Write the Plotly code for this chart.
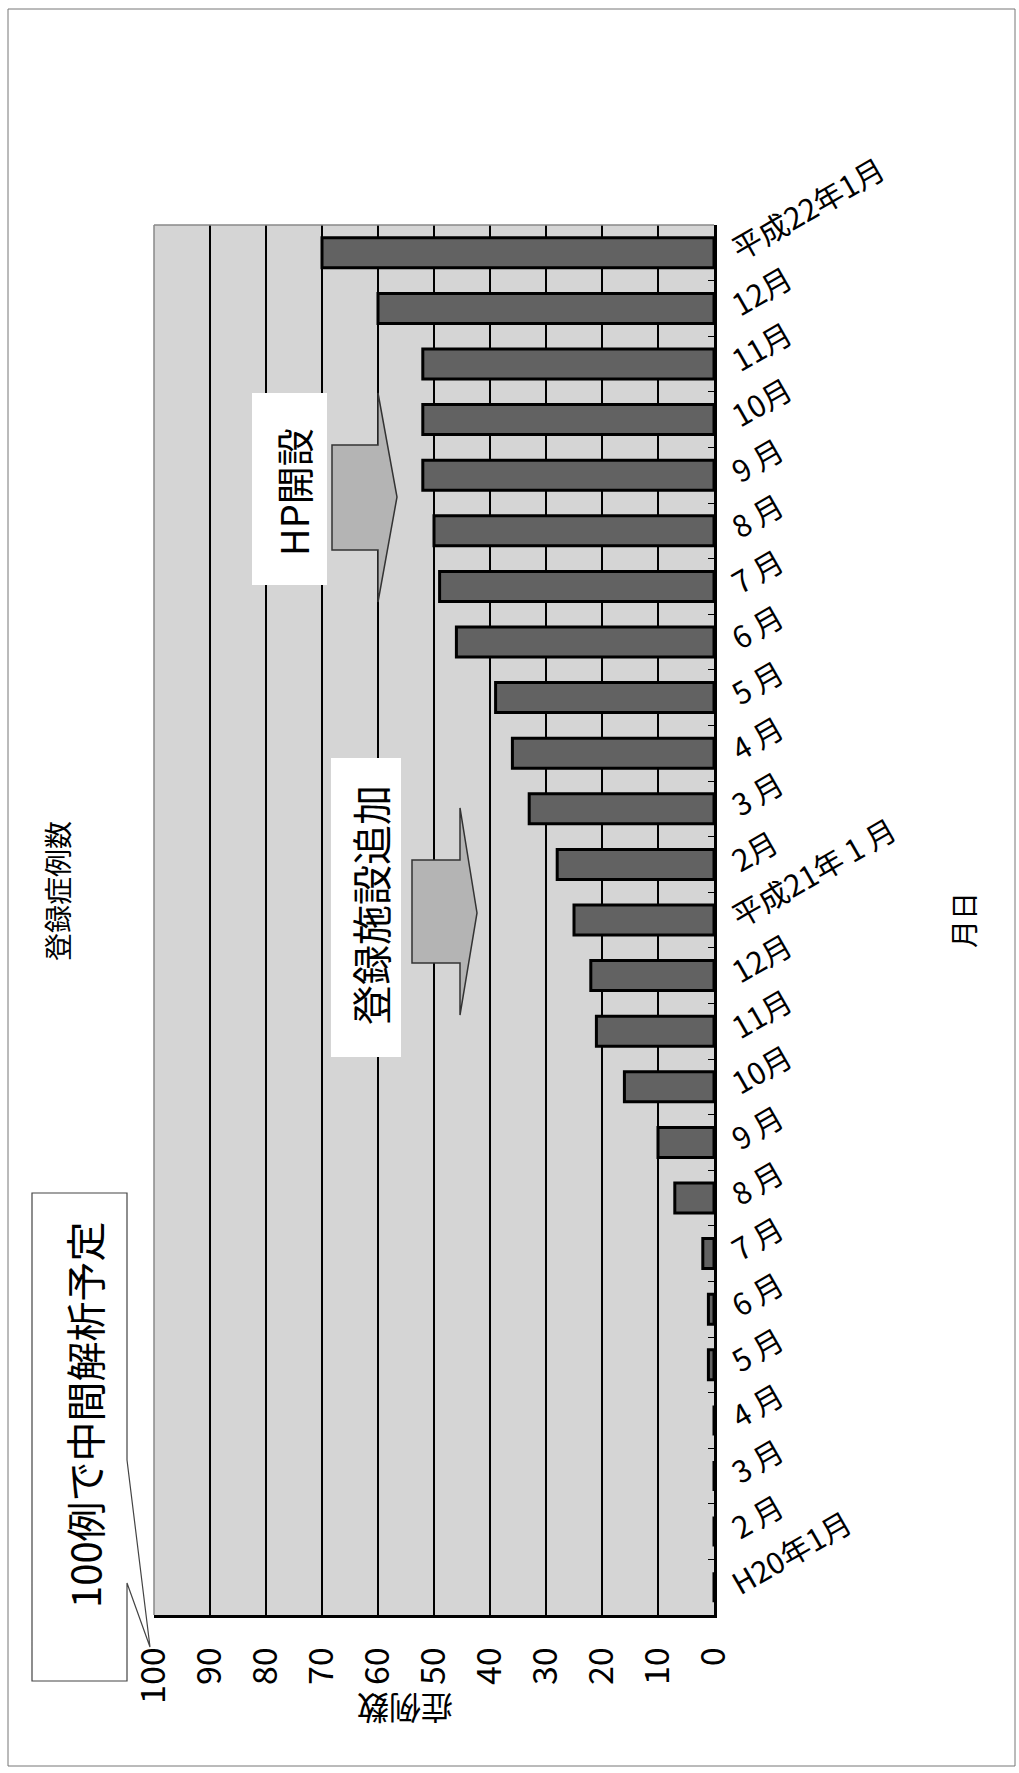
import plotly.graph_objects as go

# ---- data (bottom -> top in the picture) ----
month_keys = ["2008-01", "2008-02", "2008-03", "2008-04", "2008-05", "2008-06", "2008-07",
              "2008-08", "2008-09", "2008-10", "2008-11", "2008-12", "2009-01", "2009-02",
              "2009-03", "2009-04", "2009-05", "2009-06", "2009-07", "2009-08", "2009-09",
              "2009-10", "2009-11", "2009-12", "2010-01"]
month_labels = ["H20年1月", "2 月", "3 月", "4 月", "5 月", "6 月", "7 月", "8 月", "9 月",
                "10月", "11月", "12月", "平成21年 1 月", "2月", "3 月", "4 月", "5 月", "6 月",
                "7 月", "8 月", "9 月", "10月", "11月", "12月", "平成22年1月"]
case_counts = [0, 0, 0, 0, 1, 1, 2, 7, 10, 16, 21, 22, 25, 28, 33, 36, 39, 46, 49, 50, 52, 52,
               52, 60, 70]
value_ticks = [0, 10, 20, 30, 40, 50, 60, 70, 80, 90, 100]

FONT = "Noto Sans CJK JP, Noto Sans, sans-serif"
W, H = 1019, 1773
L, R, T, B = 154, 714, 225, 1615  # plot area in pixels


def px(x):
    return (x - L) / (R - L)


def py(y):
    return (B - y) / (B - T)


def path(points):
    return "M " + " L ".join(f"{px(x):.5f},{py(y):.5f}" for x, y in points) + " Z"


fig = go.Figure()
fig.add_trace(go.Bar(
    x=case_counts, y=month_keys, orientation="h",
    marker=dict(color="#626262", line=dict(color="black", width=3)),
    hoverinfo="x+y", showlegend=False,
))

shapes = [
    dict(type="line", xref="paper", yref="paper", x0=0, x1=1, y0=1, y1=1,
         line=dict(color="#888888", width=1.5)),
    dict(type="line", xref="paper", yref="paper", x0=0, x1=0, y0=0, y1=1,
         line=dict(color="#888888", width=1.5)),
    dict(type="rect", xref="paper", yref="paper", x0=px(8), x1=px(1015), y0=py(9), y1=py(1766),
         line=dict(color="#777777", width=1), fillcolor="rgba(0,0,0,0)", layer="below"),
    dict(type="path", xref="paper", yref="paper",
         path=path([(32, 1193), (127, 1193), (127, 1460), (150, 1647), (127, 1583),
                    (127, 1681), (32, 1681)]),
         fillcolor="white", line=dict(color="#444444", width=1.2), layer="above"),
    dict(type="rect", xref="paper", yref="paper", x0=px(252), x1=px(327), y0=py(393), y1=py(585),
         fillcolor="white", line=dict(width=0), layer="above"),
    dict(type="rect", xref="paper", yref="paper", x0=px(331), x1=px(401), y0=py(758), y1=py(1057),
         fillcolor="white", line=dict(width=0), layer="above"),
    dict(type="path", xref="paper", yref="paper",
         path=path([(332, 445), (378, 445), (378, 393), (397, 497), (378, 602), (378, 550),
                    (332, 550)]),
         fillcolor="#b4b4b4", line=dict(color="#333333", width=1.5), layer="above"),
    dict(type="path", xref="paper", yref="paper",
         path=path([(412, 860), (460, 860), (460, 808), (477, 913), (460, 1015), (460, 963),
                    (412, 963)]),
         fillcolor="#b4b4b4", line=dict(color="#333333", width=1.5), layer="above"),
]


def note(text, x, y, size, angle=-90):
    return dict(text=text, x=px(x), y=py(y), xref="paper", yref="paper", showarrow=False,
                xanchor="center", yanchor="middle", textangle=angle,
                font=dict(size=size, color="black", family=FONT))


annotations = [
    note("登録症例数", 57, 891, 28),
    note("月日", 963, 920, 28),
    note("症例数", 405, 1710, 32, angle=180),
    note("100例で中間解析予定", 84, 1415, 40),
    note("HP開設", 292, 492, 38),
    note("登録施設追加", 370, 905, 40),
]

fig.update_layout(
    width=W, height=H,
    margin=dict(l=L, r=W - R, t=T, b=H - B, pad=0),
    paper_bgcolor="white", plot_bgcolor="#d5d5d5",
    bargap=0.46,
    font=dict(family=FONT, color="black"),
    shapes=shapes, annotations=annotations,
    xaxis=dict(range=[100, 0], tickvals=value_ticks, ticktext=[str(v) for v in value_ticks],
               tickangle=-90, tickfont=dict(size=34, family=FONT), showgrid=True,
               gridcolor="black", gridwidth=1.5, zeroline=False, showline=True,
               linecolor="black", linewidth=2.5, ticks="", ticklabelstandoff=16, fixedrange=True),
    yaxis=dict(type="category", categoryorder="array", categoryarray=month_keys,
               tickvals=month_keys, ticktext=month_labels, side="right", tickangle=-30,
               tickfont=dict(size=30, family=FONT), ticks="inside", tickson="boundaries",
               ticklen=6, tickcolor="black", tickwidth=1, showline=True, linecolor="black",
               linewidth=2.5, showgrid=False, range=[-0.5, 24.5], ticklabelstandoff=10,
               fixedrange=True),
)

fig.write_html("out.html")
